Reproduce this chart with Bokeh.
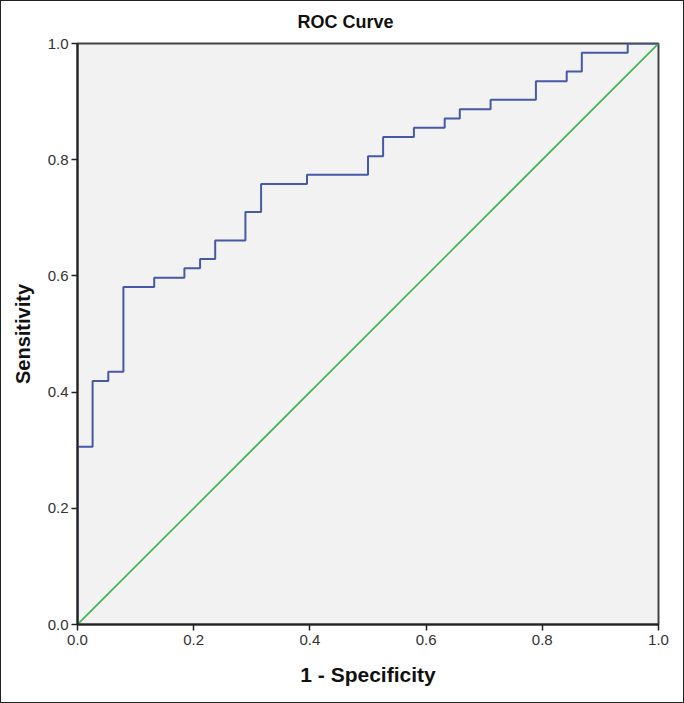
from bokeh.plotting import figure
from bokeh.models import Range1d, FixedTicker, Title
from bokeh.embed import file_html
from bokeh.resources import INLINE

# ROC data: false-positive rate where each step occurs
# and the sensitivity reached at that step
fpr = [0.0, 0.026, 0.053, 0.079, 0.132, 0.184, 0.211, 0.237, 0.289, 0.316, 0.395,
       0.500, 0.526, 0.579, 0.632, 0.658, 0.711, 0.789, 0.842, 0.868, 0.947, 1.0]
tpr = [0.306, 0.419, 0.435, 0.581, 0.597, 0.613, 0.629, 0.661, 0.710, 0.758, 0.774,
       0.806, 0.839, 0.855, 0.871, 0.887, 0.903, 0.935, 0.952, 0.984, 1.0, 1.0]
ref_x = [0.0, 1.0]
ref_y = [0.0, 1.0]
ticks = [0.0, 0.2, 0.4, 0.6, 0.8, 1.0]
tick_labels = {0.0: "0.0", 0.2: "0.2", 0.4: "0.4", 0.6: "0.6", 0.8: "0.8", 1.0: "1.0"}

FONT = "Liberation Sans"

p = figure(width=684, height=703, output_backend="svg", toolbar_location=None,
           x_range=Range1d(0, 1), y_range=Range1d(0, 1),
           min_border_left=76, min_border_right=27, min_border_top=42, min_border_bottom=80)

p.title = Title(text="ROC Curve", align="left", offset=220, text_font=FONT,
                text_font_size="18px", text_font_style="bold", text_color="#111111")
# thin empty spacer between title and frame, lifting the title a little
p.add_layout(Title(text=" ", text_font_size="4px", standoff=0), "above")

p.background_fill_color = "#f2f2f2"
p.border_fill_color = "white"
p.outline_line_color = "#444444"
p.outline_line_width = 2
p.xgrid.visible = False
p.ygrid.visible = False

for ax in (p.xaxis[0], p.yaxis[0]):
    ax.ticker = FixedTicker(ticks=ticks)
    ax.major_label_overrides = tick_labels
    ax.minor_tick_line_color = None
    ax.major_tick_in = 0
    ax.major_tick_out = 6
    ax.major_tick_line_color = "#222222"
    ax.major_tick_line_width = 1.5
    ax.axis_line_color = "#222222"
    ax.axis_line_width = 2
    ax.major_label_text_font = FONT
    ax.major_label_text_font_size = "15px"
    ax.major_label_text_color = "#333333"
    ax.axis_label_text_font = FONT
    ax.axis_label_text_font_style = "bold"
    ax.axis_label_text_color = "#111111"

p.xaxis.axis_label = "1 - Specificity"
p.yaxis.axis_label = "Sensitivity"
p.xaxis.axis_label_text_font_size = "21px"
p.yaxis.axis_label_text_font_size = "20px"
p.xaxis.major_label_standoff = 4
p.xaxis.axis_label_standoff = 15
p.yaxis.major_label_standoff = 3
p.yaxis.axis_label_standoff = 11

p.line(ref_x, ref_y, line_color="#3cb44a", line_width=1.6)
p.step([0.0] + fpr, [0.0] + tpr, mode="after", line_color="#4658a8", line_width=2)

p.styles = {"border": "1px solid #222"}

open("out.html", "w").write(file_html(p, INLINE))
